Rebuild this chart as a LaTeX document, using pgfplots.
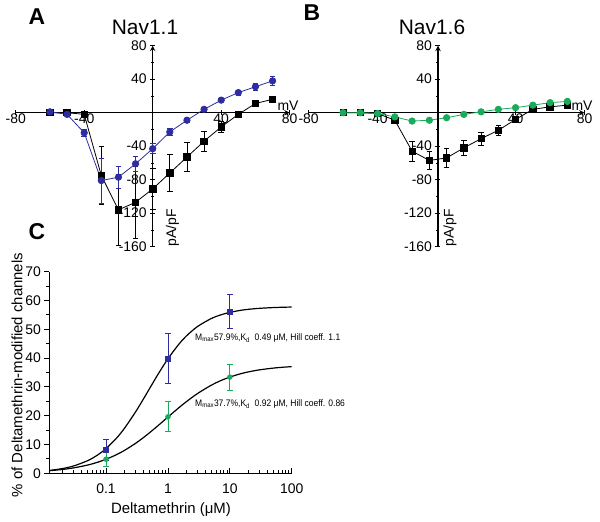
\documentclass[border=0pt]{standalone}
\usepackage{fontspec}
\setmainfont{Liberation Sans}
\usepackage{pgfplots}
\pgfplotsset{compat=1.18}
\definecolor{nblue}{RGB}{45,45,160}
\definecolor{ngreen}{RGB}{25,170,90}
\pgfplotsset{
 ivstyle/.style={
   scale only axis, width=274bp, height=201bp,
   xmin=-80, xmax=80, ymin=-160, ymax=80,
   axis line style={-, line width=1.4bp},
   xtick={-80,-40,40,80}, ytick={-160,-120,-80,-40,40,80},
   minor ytick={-140,-100,-60,-20,20,60},
   tick style={black, line width=0.8bp},
   major tick length=5bp, minor tick length=3bp,
   tick align=outside,
   ticklabel style={font=\fontsize{14}{16}\selectfont},
   xticklabel style={yshift=5bp},
   /pgf/number format/assume math mode=true,
   clip=false,
 },
 ebar/.style={error bars/.cd, y dir=both, y explicit,
   error bar style={line width=0.8bp, #1},
   error mark options={rotate=90, mark size=2.8bp, line width=0.8bp, #1}},
}
\begin{document}
\begin{tikzpicture}
\path[use as bounding box] (0,0) rectangle (600bp,522bp);

% ---------------- Panel A ----------------
\begin{axis}[ivstyle, at={(15.7bp,275.3bp)}, anchor=south west, axis lines=middle]
\addplot[black, line width=0.8bp, mark=square*, mark size=3.2bp, mark options={solid, fill=black}, ebar=black]
 table[x=x, y=y, y error=e] {
x y e
-60 0 0
-50 0 0
-40 -2 1
-30 -75 35
-20 -116 42
-10 -107 43
0 -91 25
10 -72 22
20 -53 17
30 -34 12
40 -17 7
50 -2 4
60 11 2
70 16 4
};
\addplot[nblue, line width=0.8bp, mark=*, mark size=3.2bp, mark options={solid, fill=nblue}, ebar=nblue]
 table[x=x, y=y, y error=e] {
x y e
-60 1 0
-50 -2 1
-40 -24 4
-30 -81 27
-20 -77 13
-10 -61 9
0 -43 6
10 -23 4
20 -9 2
30 4 2
40 15 2
50 24 3
60 31 4
70 38 5
};
\end{axis}

% ---------------- Panel B ----------------
\begin{axis}[ivstyle, at={(308.6bp,275.3bp)}, anchor=south west, width=276bp,
  axis x line=middle, axis y line=none, ytick=\empty, minor ytick={}]
\addplot[black, line width=0.8bp, mark=square*, mark size=3.2bp, mark options={solid, fill=black}, ebar=black]
 table[x=x, y=y, y error=e] {
x y e
-60 0 0
-50 0 0
-40 -1 0
-30 -9 1
-20 -46 12
-10 -57 11
0 -54 11
10 -42 9
20 -31 8
30 -21 6
40 -8 4
50 4 2
60 7 2
70 9 2
};
\addplot[ngreen, line width=0.8bp, mark=*, mark size=3.2bp, mark options={solid, fill=ngreen}]
 table[x=x, y=y] {
x y
-60 0
-50 0
-40 -1
-30 -5
-20 -10
-10 -9
0 -6
10 -2
20 1
30 4
40 6
50 9
60 12
70 13.5
};
\end{axis}
\begin{axis}[ivstyle, at={(308.6bp,275.3bp)}, anchor=south west, width=276bp,
  xmin=-75, xmax=85, axis x line=none, axis y line=middle, xtick=\empty]
\end{axis}

% ---------------- Panel C ----------------
\begin{axis}[at={(49.3bp,48.7bp)}, anchor=south west, scale only axis,
  width=242.4bp, height=201.6bp, xmode=log, xmin=0.0121, xmax=100, ymin=0, ymax=70,
  axis x line=bottom, axis y line=left, axis line style={-, line width=1.4bp},
  xtick={0.1,1,10,100}, xticklabels={0.1,1,10,100},
  minor xtick={0.02,0.03,0.04,0.05,0.06,0.07,0.08,0.09,0.2,0.3,0.4,0.5,0.6,0.7,0.8,0.9,2,3,4,5,6,7,8,9,20,30,40,50,60,70,80,90},
  ytick={0,10,20,30,40,50,60,70}, minor ytick={5,15,25,35,45,55,65},
  tick style={black, line width=0.8bp}, major tick length=5bp, minor tick length=3bp,
  xtick align=inside, ytick align=outside,
  ticklabel style={font=\fontsize{14}{16}\selectfont},
  xticklabel style={yshift=-7bp},
  /pgf/number format/assume math mode=true, clip=false]
\addplot[black, line width=1.2bp, smooth] coordinates {
(0.0121,0.971) (0.02,1.667) (0.03,2.562) (0.05,4.350) (0.07,6.092) (0.1,8.584)
(0.15,12.38) (0.2,15.73) (0.3,21.32) (0.4,25.73) (0.5,29.27) (0.7,34.56)
(1,39.76) (1.5,44.81) (2,47.74) (3,50.95) (5,53.73) (7,54.95) (10,55.87)
(15,56.59) (20,56.94) (30,57.28) (50,57.54) (70,57.65) (100,57.73)};
\addplot[black, line width=1.2bp, smooth] coordinates {
(0.0121,0.888) (0.02,1.351) (0.03,1.886) (0.05,2.847) (0.07,3.709) (0.1,4.869)
(0.15,6.547) (0.2,7.996) (0.3,10.41) (0.4,12.37) (0.5,14.02) (0.7,16.64)
(1,19.53) (1.5,22.76) (2,24.92) (3,27.68) (5,30.57) (7,32.10) (10,33.41)
(15,34.57) (20,35.21) (30,35.91) (50,36.52) (70,36.81) (100,37.04)};
\addplot[only marks, nblue, mark=square*, mark size=2.5bp, ebar=nblue]
 table[x=x, y=y, y error=e] {
x y e
0.1 8.2 3.6
1 39.9 8.6
10 56.2 5.8
};
\addplot[only marks, ngreen, mark=*, mark size=2.5bp, ebar=ngreen]
 table[x=x, y=y, y error=e] {
x y e
0.1 4.9 2.4
1 19.6 5.2
10 33.4 4.5
};
\end{axis}

% ---------------- Text ----------------
\node[font=\fontsize{23}{25}\selectfont\bfseries] at (37bp,505bp) {A};
\node[font=\fontsize{23}{25}\selectfont\bfseries] at (312bp,509bp) {B};
\node[font=\fontsize{23}{25}\selectfont\bfseries] at (37bp,290bp) {C};
\node[font=\fontsize{21}{24}\selectfont] at (145bp,495bp) {Nav1.1};
\node[font=\fontsize{21}{24}\selectfont] at (432bp,495bp) {Nav1.6};
\node[font=\fontsize{14}{16}\selectfont] at (288bp,416bp) {mV};
\node[font=\fontsize{14}{16}\selectfont] at (582bp,416bp) {mV};
\node[font=\fontsize{14}{16}\selectfont, rotate=90] at (172.5bp,294.5bp) {pA/pF};
\node[font=\fontsize{14}{16}\selectfont, rotate=90] at (450bp,294.5bp) {pA/pF};
\node[font=\fontsize{15}{17}\selectfont] at (171bp,12bp) {Deltamethrin (μM)};
\node[font=\fontsize{15}{17}\selectfont, rotate=90] at (17bp,147bp) {\% of Deltamethrin-modified channels};
\node[anchor=west, inner sep=0pt, font=\fontsize{9.5}{11}\selectfont] at (195bp,183.7bp)
  {\scalebox{0.9}[1]{M\textsubscript{max}57.9\%,K\textsubscript{d}\ \ 0.49 μM, Hill coeff. 1.1}};
\node[anchor=west, inner sep=0pt, font=\fontsize{9.5}{11}\selectfont] at (195bp,118bp)
  {\scalebox{0.9}[1]{M\textsubscript{max}37.7\%,K\textsubscript{d}\ \ 0.92 μM, Hill coeff. 0.86}};
\end{tikzpicture}
\end{document}
